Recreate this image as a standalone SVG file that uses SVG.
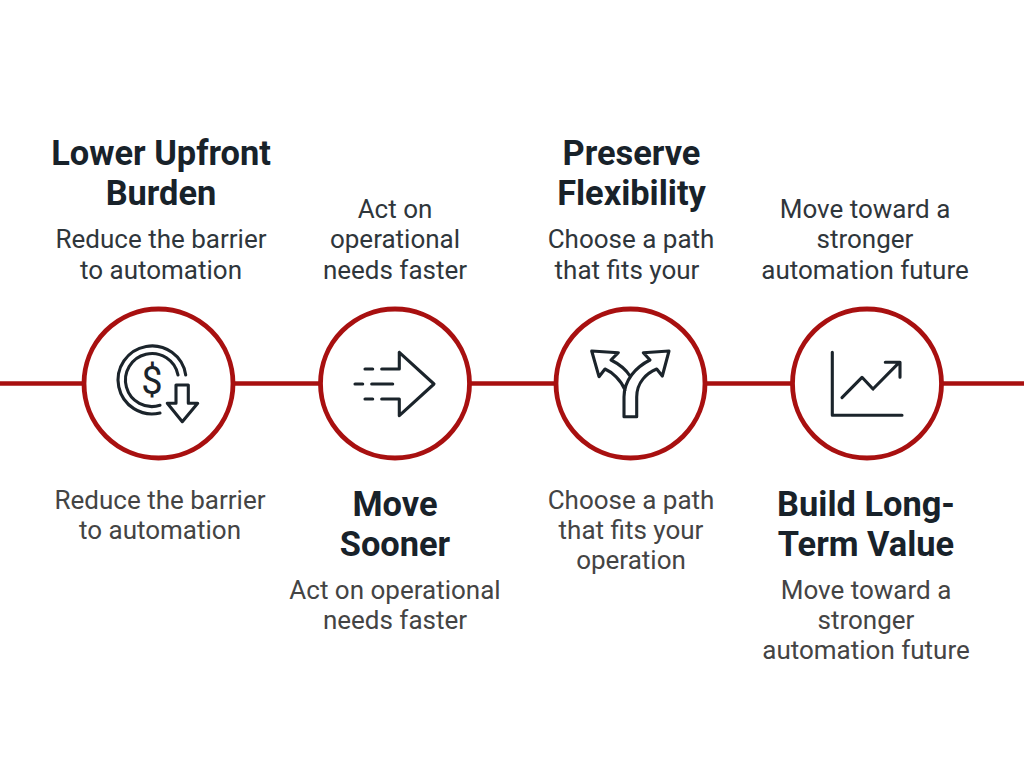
<svg xmlns="http://www.w3.org/2000/svg" width="1024" height="768" viewBox="0 0 1024 768">
<style>
text{font-family:Roboto,"Liberation Sans",sans-serif;text-anchor:middle}
.t{font-size:34.400px;font-weight:700;fill:#18222a}
.b{font-size:26px;fill:#444}
.u{font-size:26px;fill:#2f363b}
.c{fill:#fff;stroke:#a81010;stroke-width:4.800}
.i{fill:none;stroke:#1b242b;stroke-width:3.100;stroke-linecap:round;stroke-linejoin:round}
.l{fill:none;stroke:#a81010;stroke-width:4.500}
</style>
<rect width="1024" height="768" fill="#fff"/>
<g id="connectors"><line class="l" x1="0" y1="383.500" x2="1024" y2="383.500"/></g>
<g id="node-1">
<circle class="c" cx="158.500" cy="383.500" r="74.500"/>
<path class="i" d="M185.700 375A34 34 0 1 0 160 413M178 375A26.500 26.500 0 1 0 160 405.300"/>
<text x="152" y="394" style="font-size:38px;fill:#1b242b;font-weight:400">$</text>
<path class="i" d="M176 385H188.300V403.300H197.700L182.300 421.700L167.300 403.300H176Z"/>
<text class="t" x="161" y="164.700">Lower Upfront</text>
<text class="t" x="161" y="204.700">Burden</text>
<text class="u" x="161" y="248">Reduce the barrier</text>
<text class="u" x="161" y="279">to automation</text>
<text class="b" x="160" y="508.500">Reduce the barrier</text>
<text class="b" x="160" y="538.500">to automation</text>
</g>
<g id="node-2">
<circle class="c" cx="395" cy="383.500" r="74.500"/>
<path class="i" d="M399.300 352.300L434 384L399.300 415.700V399H381.700M399.300 352.300V369H381.700M365 369H372.700M355 384H362.700M371.700 384H392.700M365 399H372.700"/>
<text class="u" x="395" y="218">Act on</text>
<text class="u" x="395" y="248">operational</text>
<text class="u" x="395" y="279">needs faster</text>
<text class="t" x="395" y="515.700">Move</text>
<text class="t" x="395" y="556.300">Sooner</text>
<text class="b" x="395" y="599">Act on operational</text>
<text class="b" x="395" y="629">needs faster</text>
</g>
<g id="node-3">
<circle class="c" cx="630.500" cy="383.500" r="74.500"/>
<path class="i" d="M624 416.700H636.700V397C636.700 382 647 373 656.700 369L662.300 376L669 351L643.300 352.700L650 360C636 367 624 380 624 397ZM630 376C625 368 617 363 611 360L618.300 352.700L591.700 351L599 376.700L605 369C612 372 621 380 625 390"/>
<text class="t" x="631.500" y="164.700">Preserve</text>
<text class="t" x="631.500" y="204.700">Flexibility</text>
<text class="u" x="631" y="248">Choose a path</text>
<text class="u" x="627" y="279">that fits your</text>
<text class="b" x="631" y="508.500">Choose a path</text>
<text class="b" x="631" y="539">that fits your</text>
<text class="b" x="631" y="569">operation</text>
</g>
<g id="node-4">
<circle class="c" cx="867" cy="383.500" r="74.500"/>
<path class="i" d="M832.300 352.300V415.300H902M842 397.700L862 377.300L873 389L899.300 362.300M885.300 362.300H900V377.300"/>
<text class="u" x="865" y="218">Move toward a</text>
<text class="u" x="865" y="248">stronger</text>
<text class="u" x="865" y="279">automation future</text>
<text class="t" x="866" y="515.700">Build Long-</text>
<text class="t" x="866" y="556.300">Term Value</text>
<text class="b" x="866" y="599">Move toward a</text>
<text class="b" x="866" y="629">stronger</text>
<text class="b" x="866" y="659">automation future</text>
</g>
</svg>
